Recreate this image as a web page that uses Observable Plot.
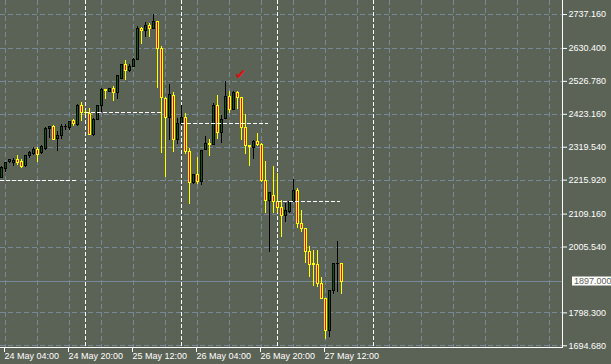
<!DOCTYPE html>
<html>
<head>
<meta charset="utf-8">
<script src="https://cdn.jsdelivr.net/npm/d3@7"></script>
<script src="https://cdn.jsdelivr.net/npm/@observablehq/plot@0.6"></script>
<style>
  html, body { margin: 0; padding: 0; background: #5b6356; }
  #chart { width: 611px; height: 364px; overflow: hidden; }
</style>
</head>
<body>
<div id="chart"></div>
<script>
// Hour index: 0 = 24 May 04:00 (H1 bars)
const firstHour = -1;
const opens = [2223.3,2251.6,2274.6,2270.5,2278.7,2274.6,2258.9,2291.3,2298.8,2311.4,2302.0,2313.3,2378.4,2382.5,2344.8,2353.3,2382.5,2380.6,2400.5,2388.8,2447.7,2428.2,2424.7,2357.3,2405.8,2449.9,2500.2,2493.9,2501.2,2489.5,2533.6,2576.7,2557.8,2571.3,2594.6,2692.2,2684.6,2702.5,2692.2,2715.1,2629.2,2471.9,2412.1,2481.3,2342.9,2393.2,2412.1,2303.9,2206.3,2233.7,2209.5,2311.4,2328.1,2327.1,2450.8,2363.6,2407.7,2476.0,2437.3,2490.8,2475.0,2380.6,2324.0,2317.7,2334.4,2327.1,2212.6,2149.7,2166.0,2146.5,2128.9,2102.5,2115.1,2146.5,2183.3,2078.6,2061.6,1989.2,1952.7,1949.6,1889.8,1842.6,1742.8,1868.7,1951.4,1952.7];
const highs = [2258.9,2271.5,2280.9,2283.1,2292.5,2279.9,2293.5,2307.0,2317.7,2319.6,2324.9,2382.5,2385.7,2388.8,2369.0,2390.1,2391.0,2401.4,2405.8,2453.9,2461.8,2435.1,2440.4,2409.9,2450.8,2503.4,2501.2,2501.2,2510.6,2545.2,2578.2,2592.4,2578.9,2597.8,2699.4,2697.2,2712.0,2707.9,2737.1,2715.1,2636.4,2476.9,2516.9,2492.7,2408.9,2449.9,2424.7,2314.6,2233.7,2286.2,2309.2,2353.3,2342.9,2458.0,2482.3,2419.3,2527.3,2495.8,2493.3,2495.8,2475.0,2422.5,2324.0,2340.7,2363.6,2331.2,2275.5,2176.1,2258.9,2235.9,2151.9,2141.5,2146.5,2217.0,2188.7,2120.4,2061.6,2007.1,1994.5,1994.5,1910.5,1842.6,1868.7,1952.7,2023.8,1952.7];
const lows = [2221.1,2239.0,2268.3,2258.9,2261.1,2252.6,2255.7,2285.0,2293.5,2272.4,2295.7,2309.2,2347.0,2340.7,2307.0,2344.8,2372.1,2372.1,2384.7,2384.7,2401.4,2419.3,2356.4,2354.8,2403.6,2429.7,2468.7,2490.8,2464.3,2470.6,2532.6,2529.5,2554.6,2570.4,2592.4,2641.8,2665.7,2665.7,2690.9,2505.2,2298.8,2225.2,2340.7,2302.9,2327.1,2386.9,2296.6,2139.3,2202.2,2202.2,2199.1,2309.2,2290.3,2327.1,2342.9,2330.3,2407.7,2426.6,2435.1,2438.2,2340.7,2296.6,2258.9,2279.9,2321.8,2208.5,2111.9,1989.2,2111.9,2110.0,2036.4,2083.6,2111.0,2146.5,2062.8,2052.1,1954.6,1910.5,1881.3,1879.1,1842.6,1713.6,1721.8,1856.1,1862.4,1856.1];
const closes = [2254.8,2269.2,2279.3,2277.7,2271.4,2256.7,2292.5,2300.7,2311.4,2296.6,2319.6,2378.4,2381.6,2343.8,2356.4,2382.5,2384.7,2399.5,2391.9,2449.2,2426.6,2427.2,2357.3,2405.8,2449.9,2500.2,2495.8,2501.2,2489.5,2542.1,2576.7,2558.7,2573.5,2595.5,2692.2,2684.6,2701.6,2692.2,2715.1,2627.9,2475.0,2412.1,2482.3,2342.9,2393.2,2412.1,2303.9,2206.3,2233.7,2209.5,2307.0,2328.1,2325.9,2450.8,2363.6,2405.8,2476.0,2437.3,2490.8,2475.0,2380.6,2324.0,2320.9,2334.4,2327.1,2212.6,2149.7,2176.1,2146.5,2128.9,2102.5,2117.3,2146.5,2183.3,2078.6,2061.6,1989.2,1950.5,1947.4,1889.8,1842.6,1742.8,1868.7,1952.7,1952.7,1897.0];

const priceTicks = [2737.16, 2630.40, 2526.78, 2423.16, 2319.54, 2215.92, 2109.16, 2005.54, 1798.30, 1694.68];
const bidPrice = 1897.0;
const timeTickHours = [0, 16, 32, 48, 64, 80];
const timeTickLabels = ["24 May 04:00", "24 May 20:00", "25 May 12:00", "26 May 04:00", "26 May 20:00", "27 May 12:00"];
const dayStartHours = [20, 44, 68, 92];
const dailyOpenStart = [-1.25, 20, 44, 68];
const dailyOpenEnd = [17.75, 39.5, 65.75, 83.75];
const dailyOpenPrice = [2214.8, 2427.8, 2393.2, 2147.8];
const arrowHour = [58.75];
const arrowPrice = [2546.8];

const BG = "#5b6356", GRID = "#778899", GREEN = "#0a5c0a";
const FONT = "'Liberation Sans', Arial, sans-serif";
const xDomain = [-1.25, 139.25];
const yDomain = [1686.2, 2781.2];

const candles = opens.map((o, k) => ({i: firstHour + k, open: o, high: highs[k], low: lows[k], close: closes[k]}));
const bulls = candles.filter(d => d.close > d.open);
const bears = candles.filter(d => d.close <= d.open);
const dailyOpens = dailyOpenPrice.map((p, k) => ({price: p, start: dailyOpenStart[k], end: dailyOpenEnd[k]}));
const arrows = arrowHour.map((h, k) => ({i: h, price: arrowPrice[k]}));
const gridHours = d3.range(0, 140, 8);
const labelMap = new Map(timeTickHours.map((h, k) => [h, timeTickLabels[k]]));
const crisp = {shapeRendering: "crispEdges"};

const chart = Plot.plot({
  width: 611, height: 364,
  marginLeft: 0, marginRight: 49, marginTop: 0, marginBottom: 16,
  x: {type: "linear", domain: xDomain, axis: null},
  y: {type: "linear", domain: yDomain, axis: null},
  style: {background: BG, color: "white", fontFamily: FONT, fontSize: "9px", overflow: "visible"},
  marks: [
    Plot.ruleX(gridHours, {stroke: GRID, strokeDasharray: "5,3", ...crisp}),
    Plot.ruleY(priceTicks, {stroke: GRID, strokeDasharray: "5,3", ...crisp}),
    Plot.ruleX(dayStartHours, {stroke: "white", strokeDasharray: "4,2", ...crisp}),
    Plot.ruleY([bidPrice], {stroke: GRID, ...crisp}),
    Plot.ruleX(bulls, {x: "i", y1: "low", y2: "high", stroke: "black", ...crisp}),
    Plot.ruleX(bears, {x: "i", y1: "low", y2: "high", stroke: "yellow", ...crisp}),
    Plot.rect(bulls, {x1: d => d.i - 0.25, x2: d => d.i + 0.25, y1: "open", y2: "close", fill: GREEN, stroke: "black", dx: 0.5, ...crisp}),
    Plot.rect(bears, {x1: d => d.i - 0.25, x2: d => d.i + 0.25, y1: "open", y2: "close", fill: "red", stroke: "yellow", dx: 0.5, ...crisp}),
    Plot.ruleY(dailyOpens, {y: "price", x1: "start", x2: "end", stroke: "white", strokeDasharray: "4,2", ...crisp}),
    Plot.text(arrows, {x: "i", y: "price", text: () => "\u2714", fill: "#e01010", fontSize: 14, fontFamily: "DejaVu Sans"}),
    Plot.ruleX([xDomain[1]], {stroke: "white", ...crisp}),
    Plot.ruleY([yDomain[0]], {stroke: "white", dy: -1, ...crisp}),
    Plot.axisY(priceTicks, {anchor: "right", tickSize: 4, tickPadding: 2, tickFormat: d => d.toFixed(3), fontSize: 9, color: "white", label: null}),
    Plot.axisX(timeTickHours, {anchor: "bottom", tickSize: 4, tickPadding: 0, tickFormat: d => labelMap.get(d), textAnchor: "start", dx: -1, fontSize: 9, color: "white", label: null})
  ]
});

// current bid label box on the price scale
const svg = d3.select(chart);
const by = chart.scale("y").apply(bidPrice);
const g = svg.append("g");
g.append("rect").attr("x", 572).attr("y", by - 4.5).attr("width", 39).attr("height", 9)
  .attr("fill", "white").attr("stroke", "none");
g.append("text").attr("x", 574).attr("y", by).attr("dy", "0.35em")
  .attr("text-anchor", "start").attr("fill", BG).attr("stroke", "none")
  .attr("font-size", 9).attr("font-family", FONT).text(bidPrice.toFixed(3));

document.getElementById("chart").appendChild(chart);
</script>
</body>
</html>
